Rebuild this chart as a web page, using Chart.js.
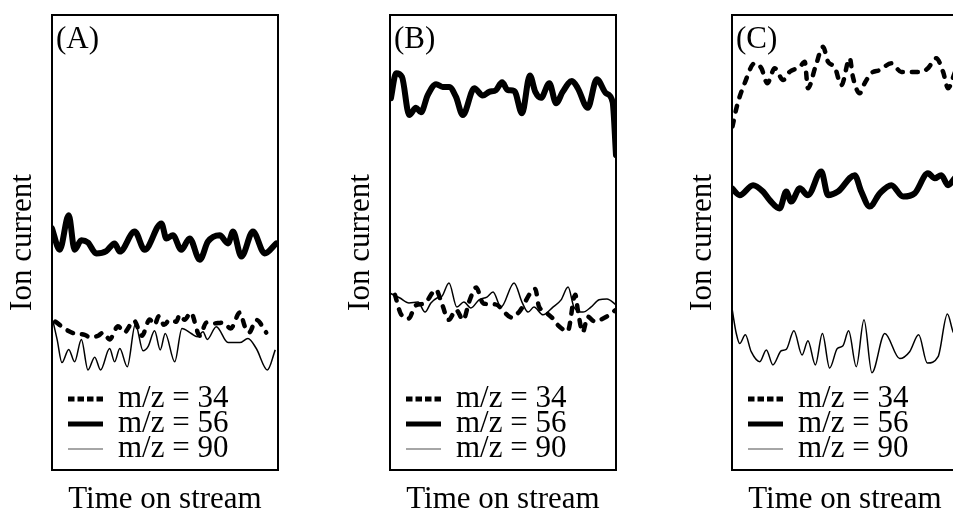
<!DOCTYPE html>
<html>
<head>
<meta charset="utf-8">
<title>Ion current vs time on stream</title>
<script src="https://cdn.jsdelivr.net/npm/chart.js@4.4.1/dist/chart.umd.min.js"></script>
<style>
  html, body { margin: 0; padding: 0; background: #fff; overflow: hidden; }
  body { width: 953px; height: 515px; position: relative; }
  canvas { position: absolute; top: 0; }
</style>
</head>
<body>
<canvas id="panelA" width="300" height="515" style="left:0px"></canvas>
<canvas id="panelB" width="300" height="515" style="left:338px"></canvas>
<canvas id="panelC" width="300" height="515" style="left:680px"></canvas>
<script>
// legend text and panel tags
const seriesLabels = ['m/z = 34', 'm/z = 56', 'm/z = 90'];
const panelLabels = ['(A)', '(B)', '(C)'];

// Panel A (time on stream 0-100, ion current in arbitrary units 0-100)
const aTime34 = [1.5, 7.1, 10.0, 14.5, 16.7, 20.4, 22.6, 25.5, 29.2, 31.9, 36.3, 39.8, 43.2, 45.4, 47.2, 49.6, 52.1, 55.0, 56.5, 58.7, 61.4, 65.4, 68.3, 71.2, 75.7, 79.1, 83.1, 85.3, 87.2, 90.4, 94.8];
const aIon34 = [32.6, 30.6, 30.0, 29.7, 29.2, 29.5, 30.2, 28.7, 31.6, 30.2, 32.8, 29.5, 33.1, 31.9, 33.8, 31.9, 33.0, 32.6, 34.1, 33.0, 34.6, 29.5, 32.4, 32.2, 32.4, 31.1, 34.6, 31.6, 30.2, 33.0, 30.2];
const aTime56 = [0, 3.4, 7.4, 10.0, 13.0, 15.9, 19.6, 24.0, 27.7, 30.0, 36.6, 41.0, 48.4, 50.6, 53.5, 57.2, 60.9, 65.4, 69.0, 74.2, 77.9, 80.1, 83.8, 88.9, 94.1, 99.2];
const aIon56 = [53.1, 48.4, 56.0, 48.4, 50.5, 50.0, 47.6, 48.1, 49.8, 48.0, 52.4, 48.4, 54.2, 50.9, 51.6, 48.4, 50.9, 46.2, 50.2, 51.6, 49.8, 52.4, 46.9, 52.4, 47.6, 49.8];
const aTime90 = [0.4, 2.3, 4.4, 7.4, 10.0, 13.0, 15.9, 18.9, 21.5, 25.5, 27.7, 30.0, 33.3, 36.9, 40.3, 42.5, 45.4, 47.9, 50.1, 54.3, 57.5, 61.6, 64.3, 66.8, 68.7, 72.7, 77.9, 83.1, 86.7, 90.4, 95.3, 98.8];
const aIon90 = [32.8, 28.6, 23.6, 26.5, 23.8, 28.7, 22.0, 24.8, 22.0, 26.7, 23.8, 26.7, 22.7, 32.1, 26.2, 27.1, 30.6, 26.4, 30.0, 23.8, 31.1, 30.0, 29.3, 30.4, 28.7, 31.5, 28.0, 28.0, 28.9, 26.7, 22.0, 26.4];

// Panel B
const bTime34 = [2.2, 4.9, 8.3, 11.2, 15.2, 20.4, 22.6, 26.0, 29.2, 32.4, 35.1, 38.1, 41.3, 46.6, 54.0, 57.2, 64.3, 65.8, 68.3, 72.0, 74.2, 78.6, 82.0, 83.1, 85.3, 87.5, 90.4, 95.1, 100];
const bIon34 = [38.5, 34.2, 33.3, 36.1, 36.6, 39.6, 37.1, 33.0, 35.2, 33.0, 37.1, 40.1, 36.6, 36.4, 33.5, 34.8, 39.8, 36.1, 34.9, 33.3, 31.9, 30.5, 38.5, 35.2, 30.3, 33.7, 32.7, 33.5, 35.2];
const bTime56 = [0.4, 2.7, 5.3, 8.5, 11.5, 13.7, 16.7, 20.4, 23.3, 26.2, 29.2, 32.2, 37.3, 41.0, 43.9, 46.9, 49.6, 52.1, 55.0, 58.4, 61.9, 64.3, 66.8, 70.5, 73.5, 76.4, 80.5, 83.1, 87.5, 91.5, 95.6, 98.5, 100];
const bIon56 = [81.7, 87.2, 86.4, 78.0, 79.6, 78.6, 82.4, 84.8, 84.2, 84.2, 82.0, 78.0, 83.9, 82.3, 83.1, 83.5, 85.2, 83.5, 83.3, 78.4, 86.7, 83.1, 81.8, 85.0, 80.6, 83.1, 85.5, 83.9, 79.6, 85.9, 82.8, 80.9, 69.2];
const bTime90 = [0.4, 4.4, 8.4, 12.4, 15.5, 18.1, 20.8, 23.0, 26.1, 29.6, 32.7, 35.8, 39.4, 42.9, 45.6, 49.1, 54.9, 58.4, 61.1, 63.7, 67.7, 72.1, 75.7, 78.8, 81.4, 85.4, 88.9, 92.5, 96.0, 100];
const bIon90 = [38.8, 37.8, 36.7, 36.9, 34.7, 36.7, 37.8, 38.2, 41.1, 35.8, 36.9, 35.6, 37.4, 38.0, 39.1, 35.8, 41.1, 36.9, 34.7, 35.8, 34.1, 35.8, 37.4, 40.2, 35.8, 34.7, 35.8, 37.4, 37.6, 36.3];

// Panel C
const cTime34 = [0.2, 2.3, 5.6, 10.0, 13.0, 15.6, 18.9, 22.6, 25.5, 30.0, 32.2, 33.6, 36.9, 40.3, 42.5, 45.4, 48.4, 52.1, 53.5, 56.5, 58.7, 61.6, 65.4, 70.5, 74.9, 78.6, 83.8, 86.7, 90.4, 93.4, 95.6, 98.7];
const cIon34 = [75.5, 80.2, 85.0, 89.4, 88.3, 85.0, 88.3, 85.7, 87.5, 88.6, 89.7, 83.9, 88.6, 93.0, 89.7, 88.6, 84.6, 90.5, 86.4, 82.8, 85.0, 87.2, 87.9, 89.4, 87.5, 87.5, 87.5, 88.3, 90.5, 87.5, 83.9, 87.5];
const cTime56 = [0, 3.4, 9.3, 13.7, 16.7, 21.1, 24.0, 26.2, 30.0, 33.6, 39.5, 42.5, 46.9, 54.3, 57.2, 60.9, 65.4, 70.5, 75.7, 80.8, 86.7, 89.7, 92.6, 95.6, 98.7];
const cIon56 = [61.9, 60.4, 62.6, 61.2, 59.3, 57.5, 61.2, 59.0, 61.9, 60.4, 65.6, 60.4, 61.2, 64.8, 61.2, 57.9, 60.8, 62.6, 60.1, 60.8, 65.2, 64.1, 64.8, 62.6, 64.2];
const cTime90 = [0, 1.9, 3.4, 5.9, 8.5, 12.3, 15.2, 18.1, 21.8, 24.0, 27.4, 31.0, 33.6, 36.9, 40.0, 43.2, 46.6, 49.1, 51.6, 55.0, 58.4, 61.9, 67.6, 74.2, 78.6, 82.6, 86.4, 91.2, 95.3, 97.8, 100];
const cIon90 = [35.5, 30.0, 27.8, 29.7, 26.0, 23.8, 26.4, 23.1, 26.2, 26.5, 30.6, 25.3, 28.4, 23.1, 30.0, 22.4, 26.7, 27.3, 30.6, 22.7, 33.0, 21.4, 30.0, 24.5, 26.0, 29.7, 23.5, 24.9, 34.3, 30.4, 28.6];

const serif = "'Liberation Serif', 'Times New Roman', serif";

// how each m/z trace is stroked (plot and legend)
const lineStyles = [
  { borderWidth: 4.5, borderDash: [6, 9], borderCapStyle: 'round' },
  { borderWidth: 6, borderDash: [], borderCapStyle: 'round' },
  { borderWidth: 1.5, borderDash: [], borderCapStyle: 'butt' }
];
const legendStyles = [
  { width: 5, dash: [6.5, 3], color: '#000' },
  { width: 5, dash: [], color: '#000' },
  { width: 1.5, dash: [], color: '#888' }
];

// frame around the plot, panel tag and the legend inside
const framePlugin = {
  id: 'panelFrame',
  afterDatasetsDraw(chart, args, opts) {
    const ctx = chart.ctx;
    const a = chart.chartArea;
    ctx.save();
    ctx.strokeStyle = '#000';
    ctx.lineWidth = 2;
    ctx.setLineDash([]);
    ctx.strokeRect(a.left, a.top, a.right - a.left, a.bottom - a.top);

    ctx.fillStyle = '#000';
    ctx.font = '31px ' + serif;
    ctx.textBaseline = 'alphabetic';
    ctx.fillText(opts.label, a.left + 4, a.top + 33);

    ctx.textBaseline = 'middle';
    seriesLabels.forEach((txt, i) => {
      const y = a.bottom - 71 + i * 25;
      const st = legendStyles[i];
      ctx.beginPath();
      ctx.lineWidth = st.width;
      ctx.strokeStyle = st.color;
      ctx.setLineDash(st.dash);
      ctx.lineCap = 'butt';
      ctx.moveTo(a.left + 16, y);
      ctx.lineTo(a.left + 51, y);
      ctx.stroke();
      ctx.fillText(txt, a.left + 66, y);
    });
    ctx.restore();
  }
};

function makeChart(canvasId, tag, times, ions) {
  const datasets = times.map((t, i) => ({
    label: seriesLabels[i],
    data: t.map((x, k) => ({ x: x, y: ions[i][k] })),
    borderColor: '#000',
    borderWidth: lineStyles[i].borderWidth,
    borderDash: lineStyles[i].borderDash,
    borderCapStyle: lineStyles[i].borderCapStyle,
    borderJoinStyle: 'round',
    cubicInterpolationMode: 'monotone',
    pointRadius: 0,
    fill: false
  }));

  const axisTitleFont = { family: serif, size: 31, lineHeight: 1 };

  return new Chart(document.getElementById(canvasId), {
    type: 'line',
    data: { datasets: datasets },
    options: {
      responsive: false,
      animation: false,
      devicePixelRatio: 1,
      layout: { padding: { left: 7.5, top: 15, right: 22, bottom: 0 } },
      plugins: {
        legend: { display: false },
        tooltip: { enabled: false },
        panelFrame: { label: tag }
      },
      scales: {
        x: {
          type: 'linear', min: 0, max: 100,
          ticks: { display: false },
          grid: { display: false, drawTicks: false },
          border: { display: false },
          title: { display: true, text: 'Time on stream', color: '#000', font: axisTitleFont, padding: { top: 14, bottom: 0 } }
        },
        y: {
          min: 0, max: 100,
          ticks: { display: false },
          grid: { display: false, drawTicks: false },
          border: { display: false },
          title: { display: true, text: 'Ion current', color: '#000', font: axisTitleFont, padding: { top: 0, bottom: 13.5 } }
        }
      }
    },
    plugins: [framePlugin]
  });
}

makeChart('panelA', panelLabels[0], [aTime34, aTime56, aTime90], [aIon34, aIon56, aIon90]);
makeChart('panelB', panelLabels[1], [bTime34, bTime56, bTime90], [bIon34, bIon56, bIon90]);
makeChart('panelC', panelLabels[2], [cTime34, cTime56, cTime90], [cIon34, cIon56, cIon90]);
</script>
</body>
</html>
